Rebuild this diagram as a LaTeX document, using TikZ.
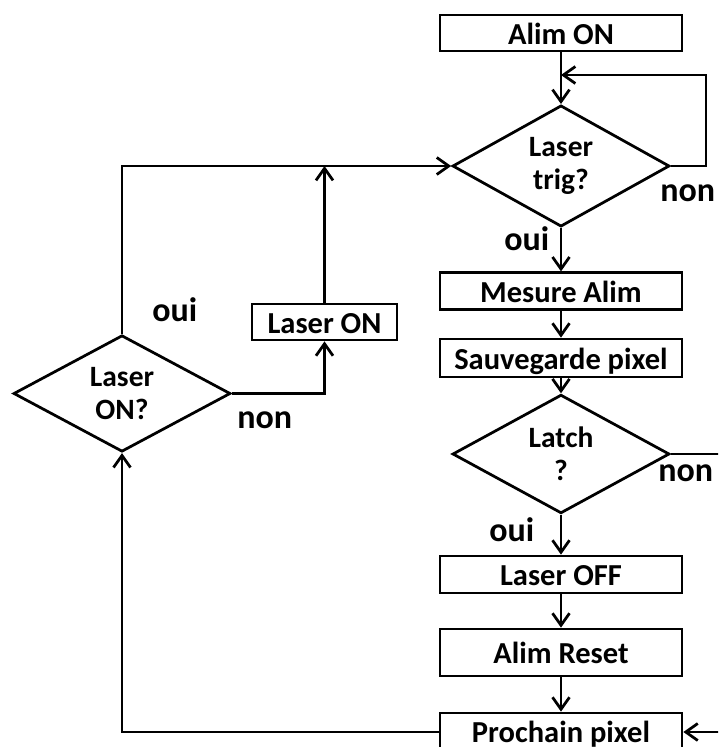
\documentclass[tikz,border=0pt]{standalone}
\usepackage{fontspec}
\setmainfont{Carlito}
\usetikzlibrary{shapes.geometric,arrows.meta}
\begin{document}
\begin{tikzpicture}[x=1pt,y=-1pt,
  line width=2.75pt,
  arr/.style={-{Straight Barb[length=12pt,width=17pt,line width=2.75pt]}},
  box/.style={draw, rectangle, inner sep=0pt, font=\fontsize{30.5}{34}\selectfont\bfseries,
    minimum width=242pt, minimum height=37pt, text height=22pt, text depth=0pt},
  dia/.style={draw, diamond, inner sep=0pt, align=center,
    font=\fontsize{29.5}{33}\selectfont\bfseries, minimum width=217pt, minimum height=107pt},
  lab/.style={inner sep=0pt, anchor=base west, font=\fontsize{34}{40}\selectfont\bfseries}]
\useasboundingbox (0,0) rectangle (718,747);
\clip (0,0) rectangle (718,747);

% main column
\node[box, minimum height=36pt] (alimon) at (561,33) {Alim ON};
\node[dia, minimum height=108pt] (trig) at (561,166) {Laser\\trig?};
\node[box, minimum height=36.5pt] (mesure) at (561,291) {Mesure Alim};
\node[box, minimum height=38pt] (sauv) at (561,358) {Sauvegarde pixel};
\node[dia, minimum height=104pt] (latch) at (561,454) {Latch\\?};
\node[box] (laseroff) at (561,574.5) {Laser OFF};
\node[box, minimum height=47pt] (alimreset) at (561,652.5) {Alim Reset};
\node[box, minimum height=38pt, text height=20pt] (prochain) at (561,732) {Prochain pixel};

% left part
\node[box, minimum width=145pt, minimum height=36pt] (laseron) at (324.5,322) {Laser ON};
\node[dia] (laseronq) at (122,393.5) {Laser\\ON?};

% labels
\node[lab] (nontrig) at (659,201) {non};
\node[lab] (ouitrig) at (503,250) {oui};
\node[lab] (nonlatch) at (657,481) {non};
\node[lab] (ouilatch) at (488,541) {oui};
\node[lab] (ouileft) at (151,321) {oui};
\node[lab] (nonleft) at (236,428) {non};

% coordinates
\coordinate (loopin) at (561,75);
\coordinate (looptr) at (706,75);
\coordinate (rx) at (740,454);

% connectors main column
\draw[arr] (alimon) -- (trig);
\draw[arr] (trig) -- (mesure);
\draw[arr] (mesure) -- (sauv);
\draw[arr] (sauv) -- (latch);
\draw[arr] (latch) -- (laseroff);
\draw[arr] (laseroff) -- (alimreset);
\draw[arr] (alimreset) -- (prochain);

% loops
\draw[arr] (trig.east) -| (looptr) -- (loopin);
\draw[arr] (latch.east) -- (rx) |- (prochain.east);
\draw[arr] (prochain.west) -| (laseronq.south);
\draw[arr] (laseronq.north) |- (trig.west);
\draw[arr] (laseronq.east) -| (laseron.south);
\draw[arr] (laseron.north) -- (laseron.north |- trig.west);
\end{tikzpicture}
\end{document}
